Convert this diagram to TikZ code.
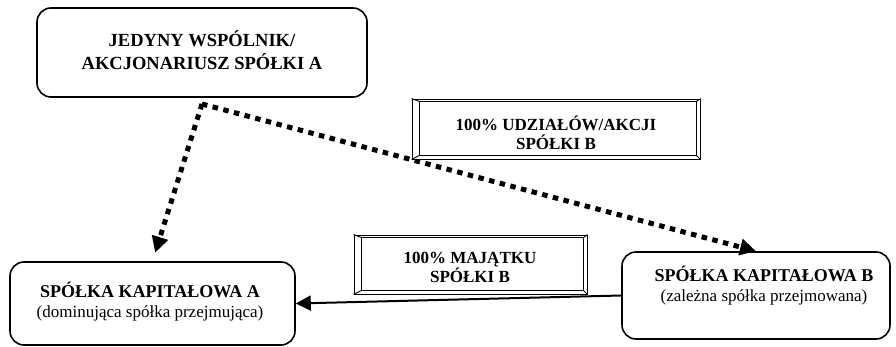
\documentclass[tikz,border=0pt]{standalone}
\usepackage{fontspec}
\setmainfont{Liberation Serif}
\usetikzlibrary{arrows.meta}
\begin{document}
\begin{tikzpicture}[x=1pt,y=-1pt,
  roundbox/.style={draw, line width=1.6pt, rounded corners=14pt, fill=white, inner sep=0pt},
  boxtext/.style={align=center, inner sep=0pt, font=\fontsize{17}{20}\selectfont},
  bevelbox/.style={draw, line width=0.9pt, fill=white, inner sep=0pt},
  bevelline/.style={line width=0.9pt},
  dotline/.style={line width=5pt, dash pattern=on 5.5pt off 5.5pt,
    -{Triangle[length=16pt,width=16pt]}},
  solidarrow/.style={line width=2pt, -{Triangle[length=15pt,width=15pt]}}]
\useasboundingbox (0,0) rectangle (896,347);

% company boxes
\node[roundbox, minimum width=330, minimum height=89] (S) at (202,52.5) {};
\node[boxtext, font=\fontsize{18.5}{23}\selectfont\bfseries] (St) at (202,50)
  {JEDYNY WSPÓLNIK/\\AKCJONARIUSZ SPÓŁKI A};

\node[roundbox, minimum width=285, minimum height=83] (A) at (152.5,303.5) {};
\node[boxtext] (At) at (150,302)
  {{\fontsize{18}{20}\selectfont\bfseries SPÓŁKA KAPITAŁOWA A}\\(dominująca spółka przejmująca)};

\node[roundbox, minimum width=268, minimum height=87] (B) at (756,295.5) {};
\node[boxtext] (Bt) at (764,286)
  {{\fontsize{18}{20}\selectfont\bfseries SPÓŁKA KAPITAŁOWA B}\\(zależna spółka przejmowana)};

% share transfer and asset transfer connectors
\coordinate (J) at (202,104);
\draw[dotline, shorten >=9pt] (J) -- (A.north);
\draw[dotline] (J) -- (B.north);
\draw[solidarrow] (B.west) -- (A.east);

% bevelled label boxes
\node[bevelbox, minimum width=288, minimum height=60] (L1) at (556,129) {};
\draw[bevelline] ([xshift=8pt,yshift=-3pt]L1.north west) rectangle ([xshift=-4pt,yshift=4pt]L1.south east);
\draw[bevelline] (L1.north west) -- ([xshift=8pt,yshift=-3pt]L1.north west)
  (L1.south west) -- ([xshift=8pt,yshift=4pt]L1.south west)
  (L1.north east) -- ([xshift=-4pt,yshift=-3pt]L1.north east)
  (L1.south east) -- ([xshift=-4pt,yshift=4pt]L1.south east);
\node[boxtext, font=\fontsize{17}{19}\selectfont\bfseries] (L1t) at (556,133)
  {100\% UDZIAŁÓW/AKCJI\\SPÓŁKI B};

\node[bevelbox, minimum width=233, minimum height=59] (L2) at (470.5,264.5) {};
\draw[bevelline] ([xshift=8pt,yshift=-3pt]L2.north west) rectangle ([xshift=-4pt,yshift=4pt]L2.south east);
\draw[bevelline] (L2.north west) -- ([xshift=8pt,yshift=-3pt]L2.north west)
  (L2.south west) -- ([xshift=8pt,yshift=4pt]L2.south west)
  (L2.north east) -- ([xshift=-4pt,yshift=-3pt]L2.north east)
  (L2.south east) -- ([xshift=-4pt,yshift=4pt]L2.south east);
\node[boxtext, font=\fontsize{17}{19}\selectfont\bfseries] (L2t) at (470,267)
  {100\% MAJĄTKU\\SPÓŁKI B};
\end{tikzpicture}
\end{document}
